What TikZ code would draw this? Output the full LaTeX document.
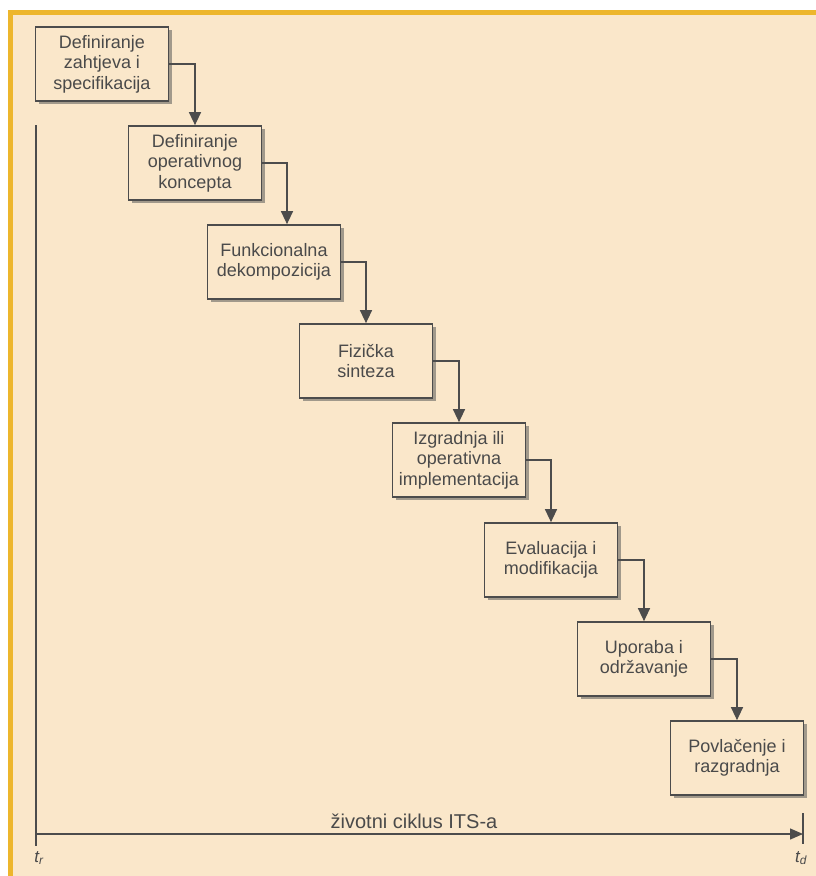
\documentclass[tikz,border=0pt]{standalone}
\usepackage{fontspec}
\setmainfont{Liberation Sans}
\usetikzlibrary{arrows.meta,shadows}
\definecolor{paper}{HTML}{FAE7CA}
\definecolor{frame}{HTML}{EDB62C}
\definecolor{ink}{HTML}{4A4A4A}
\definecolor{edge}{HTML}{4C4C4C}
\begin{document}
\begin{tikzpicture}[x=1pt,y=-1pt,
  phase/.style={draw=edge, line width=1.7pt, fill=paper, text=ink,
    minimum width=133pt, minimum height=74pt, align=center,
    font=\fontsize{18}{20.5}\selectfont,
    drop shadow={shadow xshift=3pt, shadow yshift=-3pt, opacity=0.55, fill=black!65}},
  flow/.style={draw=edge, line width=1.3pt, -{Triangle[length=13pt,width=12pt]}},
  axis/.style={draw=edge, line width=1.3pt},
  tlabel/.style={text=ink, font=\fontsize{17}{19}\selectfont\itshape}]
  % page and frame
  \useasboundingbox (0,0) rectangle (816,876);
  \fill[white] (0,0) rectangle (816,876);
  \fill[paper] (12,13) rectangle (816,876);
  \fill[frame] (8,10) rectangle (816,15);
  \fill[frame] (8,10) rectangle (13,876);

  % life-cycle phases
  \node[phase] (b1) at (102,64)  {Definiranje\\zahtjeva i\\specifikacija};
  \node[phase] (b2) at (195,163) {Definiranje\\operativnog\\koncepta};
  \node[phase] (b3) at (274,262) {Funkcionalna\\dekompozicija};
  \node[phase] (b4) at (366,361) {Fizička\\sinteza};
  \node[phase] (b5) at (459,460) {Izgradnja ili\\operativna\\implementacija};
  \node[phase] (b6) at (551,560) {Evaluacija i\\modifikacija};
  \node[phase] (b7) at (644,659) {Uporaba i\\održavanje};
  \node[phase] (b8) at (737,758) {Povlačenje i\\razgradnja};

  % transitions between phases
  \coordinate (in3) at ([xshift=13pt]b3.north);
  \draw[flow] (b1.east) -| (b2.north);
  \draw[flow] (b2.east) -| (in3);
  \foreach \a/\b in {b3/b4,b4/b5,b5/b6,b6/b7,b7/b8}
    \draw[flow] (\a.east) -| (\b.north);

  % time axis
  \coordinate (top) at (36,125);
  \coordinate (tr) at (36,846);
  \coordinate (ax0) at (36,834);
  \coordinate (ax1) at (803,834);
  \coordinate (tk0) at (803,813);
  \coordinate (tk1) at (803,844);
  \draw[axis] (top) -- (tr);
  \draw[axis, -{Triangle[length=13pt,width=11pt]}] (ax0) -- (ax1);
  \draw[axis, line width=1.8pt] (tk0) -- (tk1);
  \node[text=ink, font=\fontsize{20}{22}\selectfont] (lc) at (414,821) {životni ciklus ITS-a};
  \node[tlabel] (ltr) at (39,858) {t\textsubscript{r}};
  \node[tlabel] (ltd) at (801,858) {t\textsubscript{d}};
\end{tikzpicture}
\end{document}
